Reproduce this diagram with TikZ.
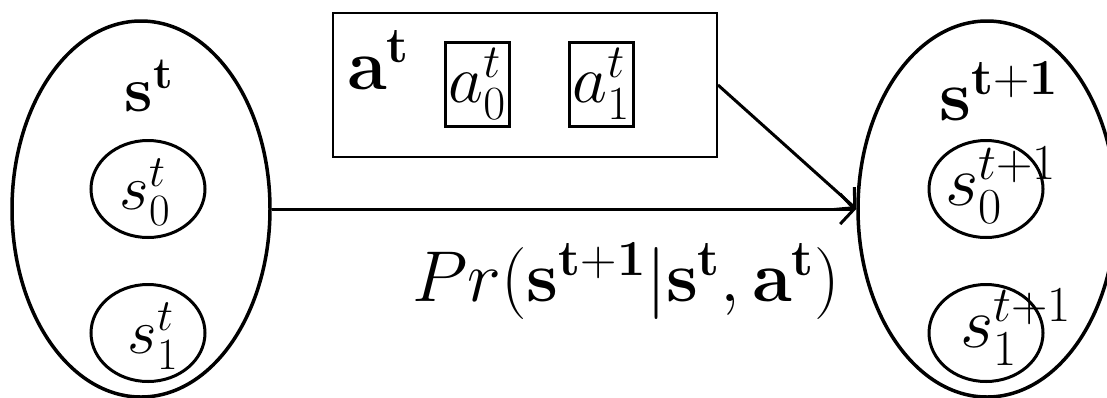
\RequirePackage{fix-cm}
\documentclass[tikz,border=0pt]{standalone}
\usetikzlibrary{shapes.geometric,arrows.meta}
\begin{document}
\begin{tikzpicture}[x=1pt,y=-1pt,
  bigell/.style={draw,ellipse,line width=3.5pt,minimum width=258pt,minimum height=376pt,inner sep=0pt},
  smallell/.style={draw,ellipse,line width=3pt,minimum width=114pt,minimum height=97pt,inner sep=0pt},
  lbl/.style={inner sep=0pt,font=\fontsize{64}{76}\selectfont},
  lblbig/.style={inner sep=0pt,font=\fontsize{72}{86}\selectfont},
  abox/.style={draw,line width=3pt,minimum width=64pt,minimum height=84pt,inner sep=0pt,font=\fontsize{68}{80}\selectfont},
  outerbox/.style={draw,line width=2pt,minimum width=384pt,minimum height=144pt,inner sep=0pt},
  arr/.style={line width=3pt,-{Straight Barb[length=14pt,width=30pt]}}]
\useasboundingbox (0,0) rectangle (1107,397);
\node[bigell] (L) at (141,209) {};
\node[bigell] (R) at (987,209) {};
\node[smallell] (l0) at (148,189) {};
\node[smallell] (l1) at (148,333) {};
\node[smallell] (r0) at (986,189) {};
\node[smallell] (r1) at (986,333) {};
\node[lbl] (ls) at (149,86) {$\mathbf{s}^{\mathbf{t}}$};
\node[lblbig] (rs) at (999,91) {$\mathbf{s}^{\mathbf{t+1}}$};
\node[lbl] (tl0) at (145,192) {$s_0^t$};
\node[lbl] (tl1) at (153,336) {$s_1^t$};
\node[lblbig] (tr0) at (1001,185) {$s_0^{t+1}$};
\node[lblbig] (tr1) at (1016,327) {$s_1^{t+1}$};
\node[outerbox] (A) at (525,85) {};
\node[lblbig] (at) at (378,60) {$\mathbf{a}^{\mathbf{t}}$};
\node[abox] (a0) at (477,84) {$a_0^t$};
\node[abox] (a1) at (601,84) {$a_1^t$};
\node[lblbig] (pr) at (626,281) {$Pr(\mathbf{s}^{\mathbf{t+1}}|\mathbf{s}^{\mathbf{t}},\mathbf{a}^{\mathbf{t}})$};
\draw[arr] (L.east) -- (R.west);
\draw[arr] (A.east) -- (R.west);
\end{tikzpicture}
\end{document}
